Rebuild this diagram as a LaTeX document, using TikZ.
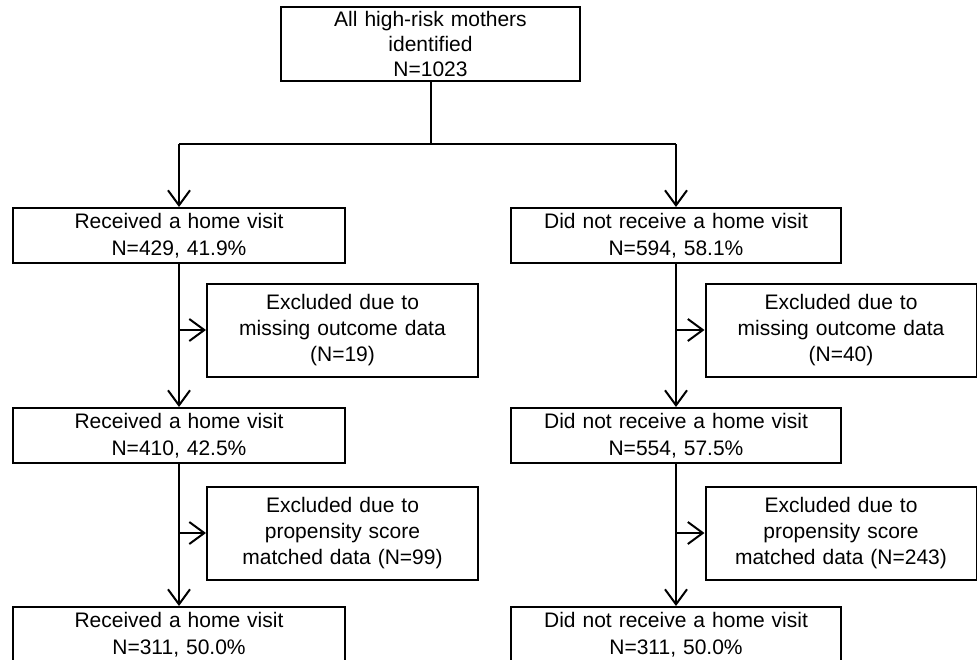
\documentclass[tikz,border=0pt]{standalone}
\usepackage{fontspec}
\setmainfont{Liberation Sans}
\usetikzlibrary{arrows.meta,calc}
\tikzset{
  box/.style={draw=black, line width=2pt, fill=white, align=center, inner sep=0pt,
    font=\fontsize{21}{26.5}\selectfont, minimum height=55pt},
  mainbox/.style={box, minimum width=332pt, text width=320pt},
  exbox/.style={box, minimum width=271pt, text width=262pt, minimum height=93pt,
    font=\fontsize{21}{26}\selectfont},
  conn/.style={line width=2pt},
  arr/.style={conn, -{Straight Barb[length=15pt,width=22pt,line width=2pt]}},
}
\begin{document}
\begin{tikzpicture}[x=1pt,y=-1pt]
\useasboundingbox (0,0) rectangle (977,659);
\clip (0,0) rectangle (977,659);
\node[box, minimum width=299pt, text width=290pt, minimum height=74pt, font=\fontsize{21}{25}\selectfont] (top) at (430.5,44) {All high-risk mothers\\identified\\N=1023};
\node[mainbox] (L1) at (179,235.5) {Received a home visit\\N=429, 41.9\%};
\node[mainbox, minimum width=330pt] (R1) at (676,235.5) {Did not receive a home visit\\N=594, 58.1\%};
\node[exbox] (LE1) at (342.5,330) {Excluded due to\\missing outcome data\\(N=19)};
\node[exbox] (RE1) at (841,330) {Excluded due to\\missing outcome data\\(N=40)};
\node[mainbox] (L2) at (179,435.5) {Received a home visit\\N=410, 42.5\%};
\node[mainbox, minimum width=330pt] (R2) at (676,435.5) {Did not receive a home visit\\N=554, 57.5\%};
\node[exbox] (LE2) at (342.5,533) {Excluded due to\\propensity score\\matched data (N=99)};
\node[exbox] (RE2) at (841,533) {Excluded due to\\propensity score\\matched data (N=243)};
\node[mainbox] (L3) at (179,634.5) {Received a home visit\\N=311, 50.0\%};
\node[mainbox, minimum width=330pt] (R3) at (676,634.5) {Did not receive a home visit\\N=311, 50.0\%};
% split
\coordinate (jT) at (430.5,144);
\coordinate (jL) at (179,144);
\coordinate (jR) at (676,144);
\draw[conn] (top.south) -- (jT);
\draw[conn] (jL) -- (jR);
\draw[arr] (jL) -- (L1.north);
\draw[arr] (jR) -- (R1.north);
% left column
\draw[arr] (L1.south) -- (L2.north);
\draw[arr] (L2.south) -- (L3.north);
\coordinate (bL1) at (L1.south |- LE1.west);
\coordinate (bL2) at (L2.south |- LE2.west);
\draw[arr] (bL1) -- (LE1.west);
\draw[arr] (bL2) -- (LE2.west);
% right column
\draw[arr] (R1.south) -- (R2.north);
\draw[arr] (R2.south) -- (R3.north);
\coordinate (bR1) at (R1.south |- RE1.west);
\coordinate (bR2) at (R2.south |- RE2.west);
\draw[arr] (bR1) -- (RE1.west);
\draw[arr] (bR2) -- (RE2.west);
\end{tikzpicture}
\end{document}
